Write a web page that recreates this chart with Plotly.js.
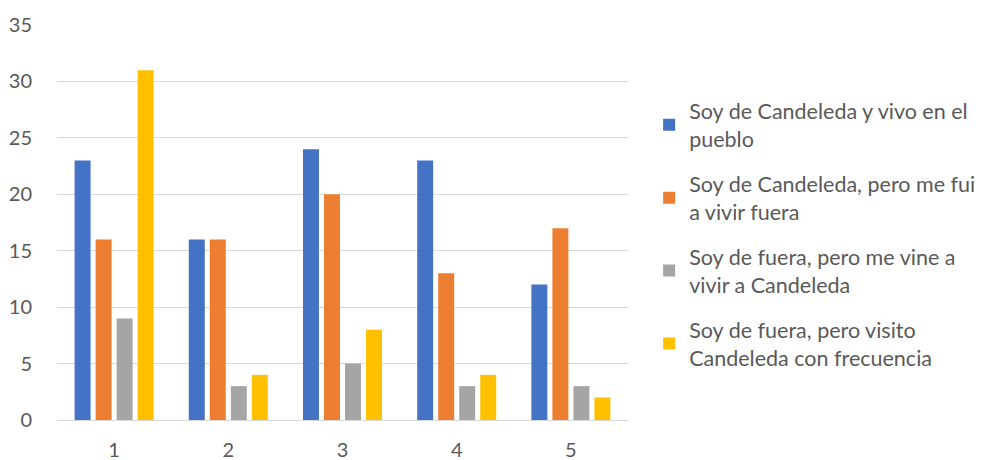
<!DOCTYPE html>
<html><head><meta charset="utf-8">
<script src="https://cdn.plot.ly/plotly-3.0.1.min.js"></script>
<style>body{margin:0;background:#fff}#chart{width:989px;height:460px}</style>
</head><body><div id="chart"></div>
<script>
const categories = ["1", "2", "3", "4", "5"];
const seriesNames = [
  "Soy de Candeleda y vivo en el<br>pueblo",
  "Soy de Candeleda, pero me fui<br>a vivir fuera",
  "Soy de fuera, pero me vine a<br>vivir a Candeleda",
  "Soy de fuera, pero visito<br>Candeleda con frecuencia"
];
const vivoPueblo = [23, 16, 24, 23, 12];
const fuiFuera = [16, 16, 20, 13, 17];
const vineCandeleda = [9, 3, 5, 3, 3];
const visitoCandeleda = [31, 4, 8, 4, 2];
const colors = ["#4472C4", "#ED7D31", "#A5A5A5", "#FFC000"];
const allSeries = [vivoPueblo, fuiFuera, vineCandeleda, visitoCandeleda];

const traces = allSeries.map((vals, i) => ({
  type: "bar",
  x: categories,
  y: vals,
  name: seriesNames[i],
  legendgroup: "g" + i,
  marker: {color: colors[i]},
  hoverinfo: "y"
}));

const layout = {
  width: 989, height: 460,
  margin: {l: 57, r: 361, t: 25, b: 40, autoexpand: false},
  paper_bgcolor: "#fff", plot_bgcolor: "#fff",
  font: {family: "Lato, 'Open Sans', sans-serif", size: 21, color: "#595959"},
  barmode: "group",
  bargap: 0.264,
  bargroupgap: 0.24,
  xaxis: {
    type: "category",
    showgrid: false,
    showline: true, linecolor: "#d9d9d9", linewidth: 1,
    ticks: "outside", ticklen: 12, tickcolor: "rgba(0,0,0,0)",
    tickfont: {size: 20, color: "#595959"}
  },
  yaxis: {
    range: [0, 35], dtick: 5,
    showgrid: true, gridcolor: "#d9d9d9", gridwidth: 1,
    zeroline: true, zerolinecolor: "#d9d9d9", zerolinewidth: 1,
    showline: false,
    ticks: "outside", ticklen: 20, tickcolor: "rgba(0,0,0,0)",
    tickfont: {size: 20, color: "#595959"}
  },
  legend: {
    x: 1.037, xanchor: "left",
    y: 0.47, yanchor: "middle",
    tracegroupgap: 14,
    font: {size: 21.5, color: "#595959"},
    bgcolor: "rgba(0,0,0,0)"
  }
};

Plotly.newPlot("chart", traces, layout, {displayModeBar: false, staticPlot: true});
</script>
</body></html>
